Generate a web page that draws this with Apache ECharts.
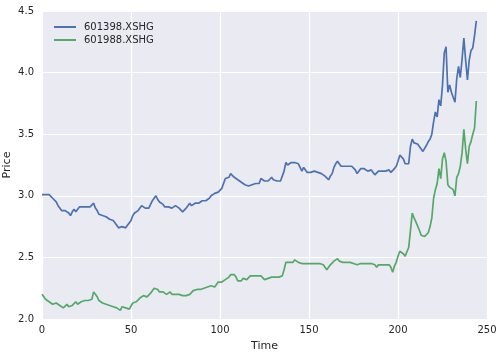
<!DOCTYPE html>
<html>
<head>
<meta charset="utf-8">
<script src="https://cdn.jsdelivr.net/npm/echarts@6/dist/echarts.min.js"></script>
<style>
html,body{margin:0;padding:0;background:#fff;}
#chart{width:502px;height:352px;}
</style>
</head>
<body>
<div id="chart"></div>
<script>
var seriesNames = ['601398.XSHG', '601988.XSHG'];
var xTicks = [0, 50, 100, 150, 200, 250];
var yTicks = [2.0, 2.5, 3.0, 3.5, 4.0, 4.5];

var s601398 = [
  3.01, 3.02, 3.01, 3.00, 3.01, 3.00, 2.98, 2.99, 2.95, 2.92,
  2.90, 2.88, 2.87, 2.88, 2.87, 2.86, 2.84, 2.87, 2.89, 2.87,
  2.88, 2.91, 2.90, 2.91, 2.90, 2.91, 2.90, 2.91, 2.91, 2.94,
  2.90, 2.88, 2.85, 2.86, 2.84, 2.83, 2.83, 2.82, 2.81, 2.80,
  2.80, 2.79, 2.76, 2.74, 2.73, 2.75, 2.74, 2.74, 2.76, 2.78,
  2.80, 2.84, 2.86, 2.85, 2.88, 2.90, 2.92, 2.91, 2.90, 2.89,
  2.90, 2.93, 2.96, 2.98, 3.00, 2.97, 2.95, 2.94, 2.93, 2.91,
  2.90, 2.91, 2.90, 2.90, 2.91, 2.92, 2.91, 2.90, 2.89, 2.87,
  2.88, 2.90, 2.92, 2.94, 2.92, 2.93, 2.94, 2.93, 2.94, 2.95,
  2.96, 2.95, 2.96, 2.97, 2.98, 3.00, 3.01, 3.02, 3.02, 3.03,
  3.03, 3.06, 3.10, 3.14, 3.13, 3.15, 3.18, 3.17, 3.15, 3.14,
  3.13, 3.12, 3.11, 3.10, 3.09, 3.08, 3.08, 3.08, 3.09, 3.10,
  3.10, 3.11, 3.10, 3.14, 3.13, 3.12, 3.12, 3.12, 3.13, 3.15,
  3.13, 3.12, 3.12, 3.11, 3.12, 3.13, 3.20, 3.27, 3.25, 3.26,
  3.27, 3.26, 3.27, 3.28, 3.26, 3.23, 3.20, 3.23, 3.21, 3.19,
  3.20, 3.19, 3.19, 3.20, 3.19, 3.19, 3.18, 3.18, 3.17, 3.16,
  3.15, 3.13, 3.16, 3.18, 3.23, 3.26, 3.28, 3.26, 3.24, 3.25,
  3.24, 3.25, 3.24, 3.24, 3.24, 3.23, 3.21, 3.18, 3.20, 3.22,
  3.21, 3.22, 3.21, 3.20, 3.20, 3.21, 3.19, 3.17, 3.18, 3.20,
  3.21, 3.20, 3.21, 3.20, 3.21, 3.21, 3.19, 3.18, 3.22, 3.24,
  3.28, 3.33, 3.32, 3.30, 3.26, 3.25, 3.26, 3.40, 3.46, 3.43,
  3.43, 3.42, 3.40, 3.38, 3.36, 3.37, 3.41, 3.44, 3.46, 3.50,
  3.60, 3.68, 3.64, 3.78, 3.73, 3.90, 4.16, 4.21, 3.84, 3.90,
  3.84, 3.80, 3.76, 3.95, 4.05, 3.96, 4.11, 4.28, 4.10, 3.94,
  4.10, 4.18, 4.20, 4.30, 4.42
];

var s601988 = [
  2.20, 2.18, 2.16, 2.15, 2.14, 2.13, 2.12, 2.12, 2.13, 2.12,
  2.11, 2.10, 2.09, 2.10, 2.12, 2.10, 2.10, 2.11, 2.12, 2.14,
  2.12, 2.11, 2.14, 2.15, 2.15, 2.15, 2.15, 2.15, 2.16, 2.22,
  2.20, 2.18, 2.15, 2.14, 2.13, 2.12, 2.12, 2.11, 2.11, 2.10,
  2.10, 2.10, 2.09, 2.08, 2.07, 2.10, 2.09, 2.09, 2.09, 2.08,
  2.08, 2.13, 2.14, 2.14, 2.15, 2.17, 2.18, 2.19, 2.19, 2.18,
  2.19, 2.21, 2.23, 2.25, 2.26, 2.24, 2.22, 2.21, 2.22, 2.21,
  2.20, 2.21, 2.22, 2.20, 2.19, 2.20, 2.20, 2.20, 2.19, 2.19,
  2.19, 2.19, 2.19, 2.20, 2.21, 2.23, 2.24, 2.24, 2.24, 2.24,
  2.24, 2.25, 2.26, 2.26, 2.27, 2.27, 2.27, 2.26, 2.27, 2.30,
  2.30, 2.30, 2.31, 2.32, 2.33, 2.34, 2.36, 2.37, 2.36, 2.34,
  2.31, 2.30, 2.31, 2.33, 2.33, 2.32, 2.33, 2.35, 2.35, 2.35,
  2.35, 2.35, 2.35, 2.35, 2.34, 2.32, 2.32, 2.33, 2.33, 2.34,
  2.34, 2.34, 2.34, 2.34, 2.34, 2.35, 2.40, 2.46, 2.45, 2.46,
  2.46, 2.46, 2.48, 2.47, 2.46, 2.45, 2.45, 2.45, 2.45, 2.45,
  2.45, 2.45, 2.45, 2.45, 2.45, 2.45, 2.45, 2.45, 2.44, 2.43,
  2.40, 2.42, 2.44, 2.45, 2.47, 2.48, 2.49, 2.47, 2.47, 2.46,
  2.46, 2.46, 2.47, 2.46, 2.47, 2.45, 2.44, 2.44, 2.45, 2.45,
  2.45, 2.45, 2.45, 2.45, 2.45, 2.45, 2.44, 2.44, 2.42, 2.44,
  2.43, 2.44, 2.44, 2.44, 2.44, 2.44, 2.42, 2.38, 2.43, 2.46,
  2.51, 2.55, 2.54, 2.53, 2.51, 2.52, 2.58, 2.72, 2.86, 2.82,
  2.79, 2.78, 2.72, 2.68, 2.67, 2.67, 2.68, 2.70, 2.75, 2.82,
  2.98, 3.05, 3.10, 3.22, 3.14, 3.30, 3.35, 3.28, 3.09, 3.07,
  3.06, 3.05, 3.00, 3.15, 3.18, 3.24, 3.35, 3.54, 3.38, 3.26,
  3.40, 3.44, 3.50, 3.55, 3.77
];

function toPairs(arr) {
  return arr.map(function (v, i) { return [i, v]; });
}

var FONT = 'DejaVu Sans';
var TXT = '#262626';

var chart = echarts.init(document.getElementById('chart'), null, {renderer: 'canvas'});
chart.setOption({
  animation: false,
  backgroundColor: '#ffffff',
  textStyle: {fontFamily: FONT},
  grid: {
    left: 42, right: 15, top: 11, bottom: 33,
    containLabel: false, outerBoundsMode: 'none',
    show: true, backgroundColor: '#EAEAF2', borderWidth: 0
  },
  legend: {
    orient: 'vertical',
    left: 49, top: 17,
    itemWidth: 22, itemHeight: 2, itemGap: 3,
    icon: 'rect',
    textStyle: {fontFamily: FONT, fontSize: 10, color: TXT, padding: [0, 0, 0, 3]},
    data: seriesNames
  },
  xAxis: {
    type: 'value',
    min: xTicks[0], max: xTicks[xTicks.length - 1], interval: 50,
    name: 'Time', nameLocation: 'middle', nameGap: 22, nameMoveOverlap: false,
    nameTextStyle: {fontFamily: FONT, fontSize: 11, color: TXT},
    axisLine: {show: false}, axisTick: {show: false},
    axisLabel: {fontFamily: FONT, fontSize: 10, color: TXT, margin: 6},
    splitLine: {show: true, lineStyle: {color: '#ffffff', width: 1.2}}
  },
  yAxis: {
    type: 'value',
    min: yTicks[0], max: yTicks[yTicks.length - 1], interval: 0.5,
    name: 'Price', nameLocation: 'middle', nameGap: 29, nameMoveOverlap: false,
    nameTextStyle: {fontFamily: FONT, fontSize: 11, color: TXT},
    axisLine: {show: false}, axisTick: {show: false},
    axisLabel: {fontFamily: FONT, fontSize: 10, color: TXT, margin: 8,
      formatter: function (v) { return v.toFixed(1); }},
    splitLine: {show: true, lineStyle: {color: '#ffffff', width: 1.2}}
  },
  series: [
    {name: seriesNames[0], type: 'line', showSymbol: false, symbol: 'none',
     data: toPairs(s601398), itemStyle: {color: '#4C72B0'},
     lineStyle: {color: '#4C72B0', width: 1.7}},
    {name: seriesNames[1], type: 'line', showSymbol: false, symbol: 'none',
     data: toPairs(s601988), itemStyle: {color: '#55A868'},
     lineStyle: {color: '#55A868', width: 1.7}}
  ]
});
</script>
</body>
</html>
